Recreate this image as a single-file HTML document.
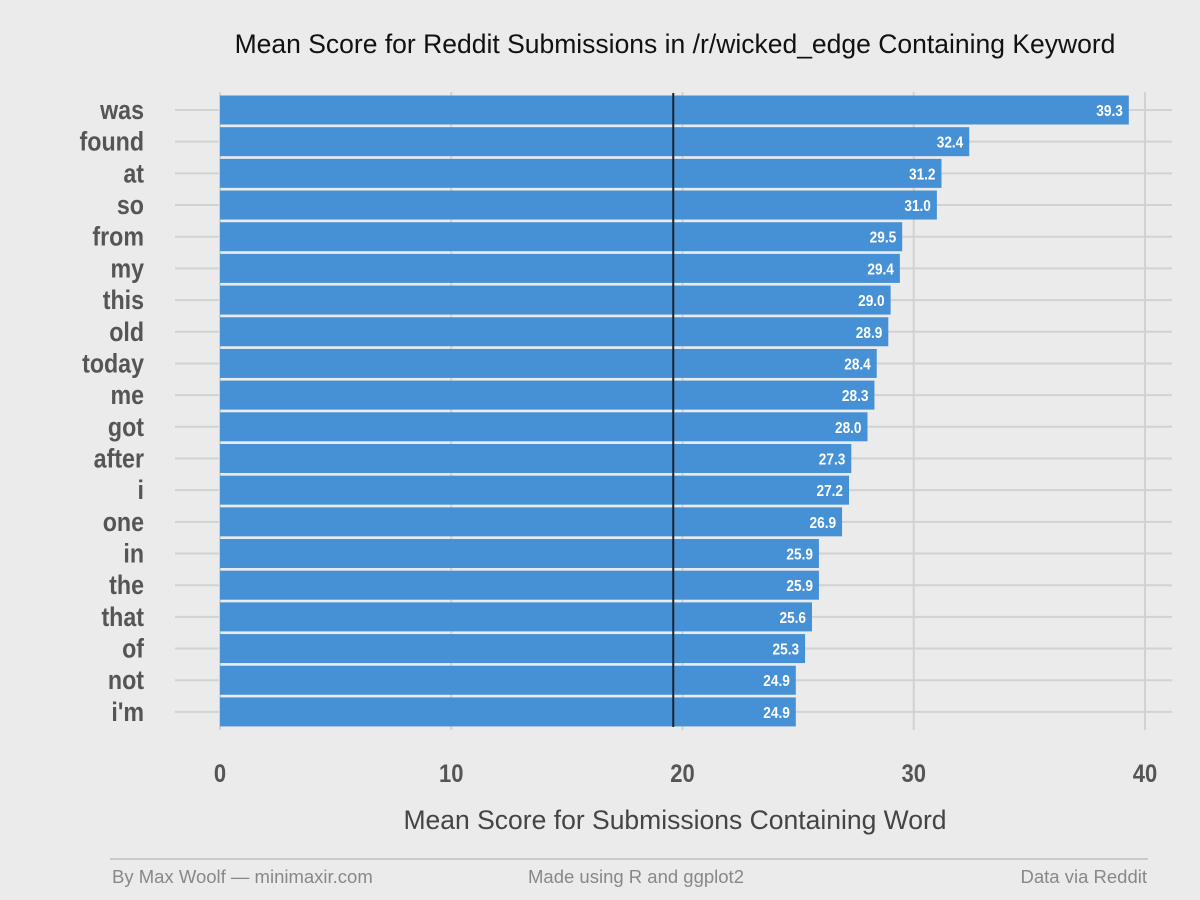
<!DOCTYPE html>
<html><head><meta charset="utf-8"><style>
body{margin:0;background:#EBEBEB;}
svg{display:block;}
</style></head><body>
<svg id="chart" width="1200" height="900" xmlns="http://www.w3.org/2000/svg">
<rect width="1200" height="900" fill="#EBEBEB"/>
<text x="675" y="53" text-anchor="middle" font-family="Liberation Sans, sans-serif" font-size="26.5" fill="#111">Mean Score for Reddit Submissions in /r/wicked_edge Containing Keyword</text>
<g id="grid"></g><g id="bars"></g><g id="labels"></g>
<text x="675" y="829" text-anchor="middle" font-family="Liberation Sans, sans-serif" font-size="26.5" fill="#444">Mean Score for Submissions Containing Word</text>
<line x1="110" y1="859" x2="1148" y2="859" stroke="#aaa" stroke-width="1"/>
<text x="112" y="883" font-family="Liberation Sans, sans-serif" font-size="18.5" fill="#888">By Max Woolf — minimaxir.com</text>
<text x="636" y="883" text-anchor="middle" font-family="Liberation Sans, sans-serif" font-size="18.5" fill="#888">Made using R and ggplot2</text>
<text x="1147" y="883" text-anchor="end" font-family="Liberation Sans, sans-serif" font-size="18.5" fill="#888">Data via Reddit</text>
</svg>
<script>
const words=["was","found","at","so","from","my","this","old","today","me","got","after","i","one","in","the","that","of","not","i'm"];
const values=[39.3,32.4,31.2,31.0,29.5,29.4,29.0,28.9,28.4,28.3,28.0,27.3,27.2,26.9,25.9,25.9,25.6,25.3,24.9,24.9];
const xTicks=[0,10,20,30,40];
const meanValue=19.6;
const NS="http://www.w3.org/2000/svg";
const x=v=>220+v*23.125;
const y=i=>110+i*31.68;
function mk(tag,attrs,parent){const e=document.createElementNS(NS,tag);for(const k in attrs)e.setAttribute(k,attrs[k]);parent.appendChild(e);return e;}
const grid=document.getElementById('grid'),bars=document.getElementById('bars'),labels=document.getElementById('labels');
const F='Liberation Sans Narrow, Liberation Sans, sans-serif';
xTicks.forEach(t=>{
 const l=mk('line',{x1:x(t),x2:x(t),y1:92,y2:730,stroke:'#D2D2D2','stroke-width':2},grid);
 
 
 const tx=mk('text',{'text-anchor':'middle','font-family':F,'font-weight':'bold','font-size':25,fill:'#555',transform:`translate(${x(t)},782) scale(0.88,1)`},labels);
 tx.textContent=t;
 
 
});
words.forEach((w,i)=>{
 const g=mk('line',{x1:175,x2:1172,y1:y(i),y2:y(i),stroke:'#D2D2D2','stroke-width':2},grid);
 
 
 const r=mk('rect',{x:x(0),y:y(i)-14.5,width:x(values[i])-x(0),height:29,fill:'#4691D6'},bars);
 
 
 const v=mk('text',{'text-anchor':'end','font-family':F,'font-weight':'bold','font-size':15.5,fill:'#fff',transform:`translate(${x(values[i])-6},${y(i)+6}) scale(0.88,1)`},labels);
 v.textContent=values[i].toFixed(1);
 
 
 const t=mk('text',{'text-anchor':'end','font-family':F,'font-weight':'bold','font-size':27,fill:'#555',transform:`translate(144,${y(i)+9}) scale(0.86,1)`},labels);
 t.textContent=w;
 
 
});
const m=mk('line',{x1:x(meanValue),x2:x(meanValue),y1:93,y2:727,stroke:'#1a2430','stroke-width':2},bars);


</script>
</body></html>
